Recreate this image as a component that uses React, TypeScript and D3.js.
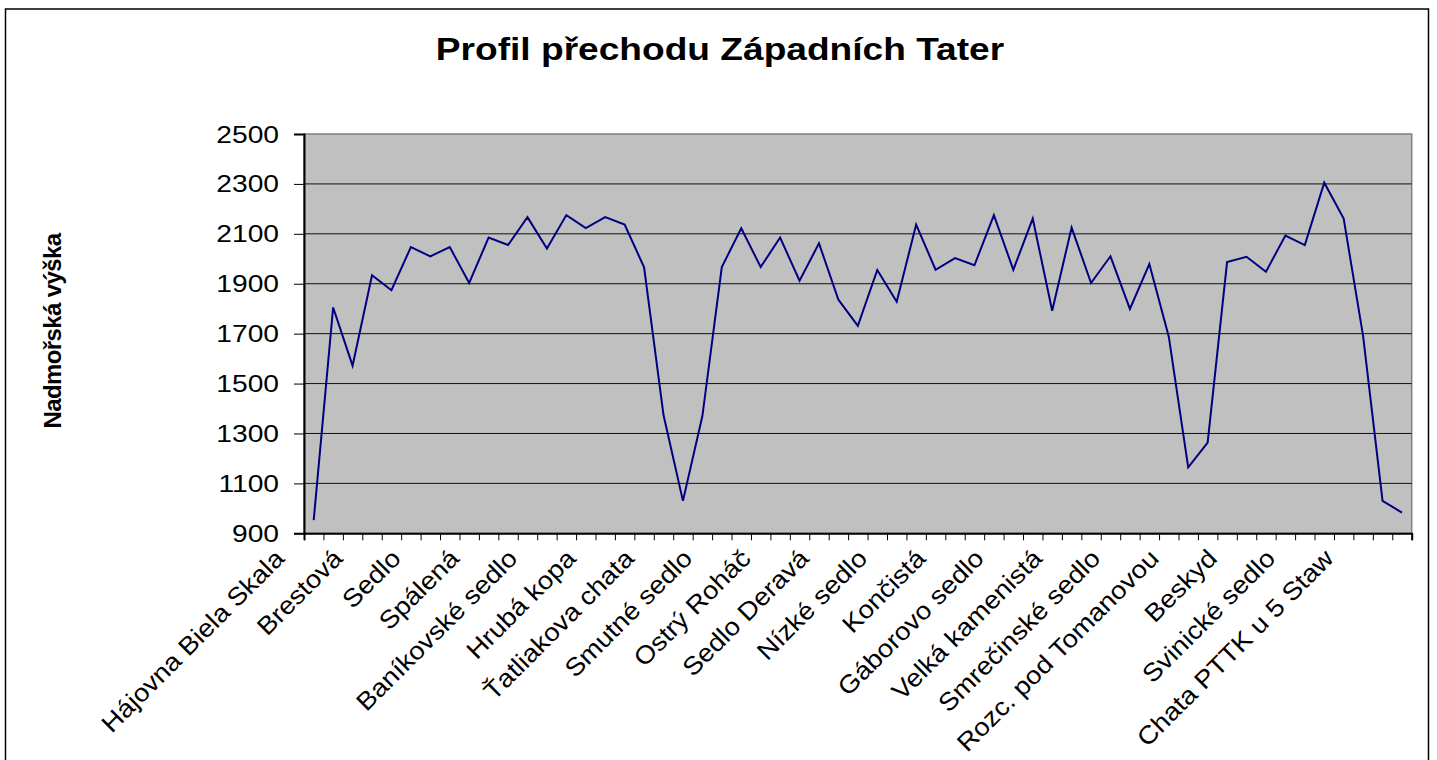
import React, { useEffect, useRef } from 'react';
import * as d3 from 'd3';

// nadmořská výška v jednotlivých bodech přechodu (m n. m.)
const elevations = [
  953, 1805, 1572, 1934, 1874, 2047, 2010, 2047, 1903, 2085,
  2055, 2167, 2041, 2175, 2123, 2167, 2137, 1966, 1374, 1030,
  1370, 1967, 2122, 1967, 2085, 1912, 2062, 1836, 1731, 1955,
  1828, 2137, 1956, 2003, 1974, 2175, 1956, 2161, 1792, 2125,
  1903, 2010, 1799, 1979, 1688, 1164, 1263, 1987, 2008, 1948,
  2093, 2055, 2305, 2161, 1690, 1030, 983,
];

// popisky osy x – Excel ukazuje jen každý třetí bod
const stationNames = [
  'Hájovna Biela Skala', 'Brestová', 'Sedlo', 'Spálená', 'Baníkovské sedlo',
  'Hrubá kopa', 'Ťatliakova chata', 'Smutné sedlo', 'Ostrý Roháč', 'Sedlo Deravá',
  'Nízké sedlo', 'Končistá', 'Gáborovo sedlo', 'Velká kamenistá', 'Smrečinské sedlo',
  'Rozc. pod Tomanovou', 'Beskyd', 'Svinické sedlo', 'Chata PTTK u 5 Staw',
];
const labelStep = 3;

const yTicks = [900, 1100, 1300, 1500, 1700, 1900, 2100, 2300, 2500];

const title = 'Profil přechodu Západních Tater';
const yTitle = 'Nadmořská výška';

const W = 1437, H = 760;
const font = "'Liberation Sans', Arial, sans-serif";

export default function App() {
  const ref = useRef<SVGSVGElement>(null);

  useEffect(() => {
    const svg = d3.select(ref.current);
    svg.selectAll('*').remove();

    const left = 304, right = 1411.7, top = 134, bottom = 533.3;

    const x = d3.scaleBand<number>()
      .domain(d3.range(elevations.length))
      .range([left, right])
      .padding(0);
    const bw = x.bandwidth();
    const cx = (i: number) => (x(i) as number) + bw / 2;

    const y = d3.scaleLinear().domain([900, 2500]).range([bottom, top]);

    // outer chart frame
    svg.append('rect')
      .attr('x', 5.5).attr('y', 9)
      .attr('width', 1423).attr('height', H + 10)
      .attr('fill', 'white').attr('stroke', '#000').attr('stroke-width', 1.5);

    // plot area
    svg.append('rect')
      .attr('x', left).attr('y', top)
      .attr('width', right - left).attr('height', bottom - top)
      .attr('fill', '#C0C0C0').attr('stroke', '#808080').attr('stroke-width', 1.5);

    // gridlines
    svg.append('g')
      .selectAll('line')
      .data(yTicks.filter(t => t > 900 && t < 2500))
      .join('line')
      .attr('x1', left).attr('x2', right)
      .attr('y1', d => y(d)).attr('y2', d => y(d))
      .attr('stroke', '#111').attr('stroke-width', 1);

    // y axis
    const yAxis = svg.append('g')
      .attr('transform', `translate(${left},0)`)
      .call(d3.axisLeft(y).tickValues(yTicks).tickSize(10).tickFormat(() => ''));
    yAxis.select('.domain').attr('stroke', '#000').attr('stroke-width', 2);
    yAxis.selectAll('.tick line').attr('stroke', '#000');

    svg.append('g')
      .selectAll('text')
      .data(yTicks)
      .join('text')
      .attr('transform', d => `translate(279,${y(d) + 8.5}) scale(1.2,1)`)
      .attr('text-anchor', 'end')
      .attr('font-family', font)
      .attr('font-size', 23.5)
      .attr('fill', '#000')
      .text(d => d);

    // x axis with tick between every category
    const xLin = d3.scaleLinear().domain([0, elevations.length]).range([left, right]);
    const xAxis = svg.append('g')
      .attr('transform', `translate(0,${bottom})`)
      .call(d3.axisBottom(xLin).tickValues(d3.range(elevations.length + 1)).tickSize(7).tickFormat(() => ''));
    xAxis.select('.domain').attr('stroke', '#000').attr('stroke-width', 2);
    xAxis.selectAll('.tick line').attr('stroke', '#000');

    svg.append('g')
      .selectAll('text')
      .data(stationNames)
      .join('text')
      .attr('transform', (d, k) => `translate(${cx(k * labelStep) - 28},${560}) rotate(-45) scale(1.1,1)`)
      .attr('text-anchor', 'end')
      .attr('font-family', font)
      .attr('font-size', 25)
      .attr('fill', '#000')
      .text(d => d);

    // profile line
    const line = d3.line<number>()
      .x((d, i) => cx(i))
      .y(d => y(d));
    svg.append('path')
      .datum(elevations)
      .attr('d', line)
      .attr('fill', 'none')
      .attr('stroke', '#000080')
      .attr('stroke-width', 2);

    // titles
    svg.append('text')
      .attr('transform', 'translate(720,60) scale(1.16,1)')
      .attr('text-anchor', 'middle')
      .attr('font-family', font)
      .attr('font-size', 32)
      .attr('font-weight', 'bold')
      .text(title);

    svg.append('text')
      .attr('transform', 'translate(61,331) rotate(-90)')
      .attr('text-anchor', 'middle')
      .attr('font-family', font)
      .attr('font-size', 24)
      .attr('font-weight', 'bold')
      .attr('letter-spacing', -0.6)
      .text(yTitle);
  }, []);

  return (
    <svg
      ref={ref}
      width={W}
      height={H}
      style={{ position: 'absolute', left: 0, top: 0, background: 'white' }}
    />
  );
}
